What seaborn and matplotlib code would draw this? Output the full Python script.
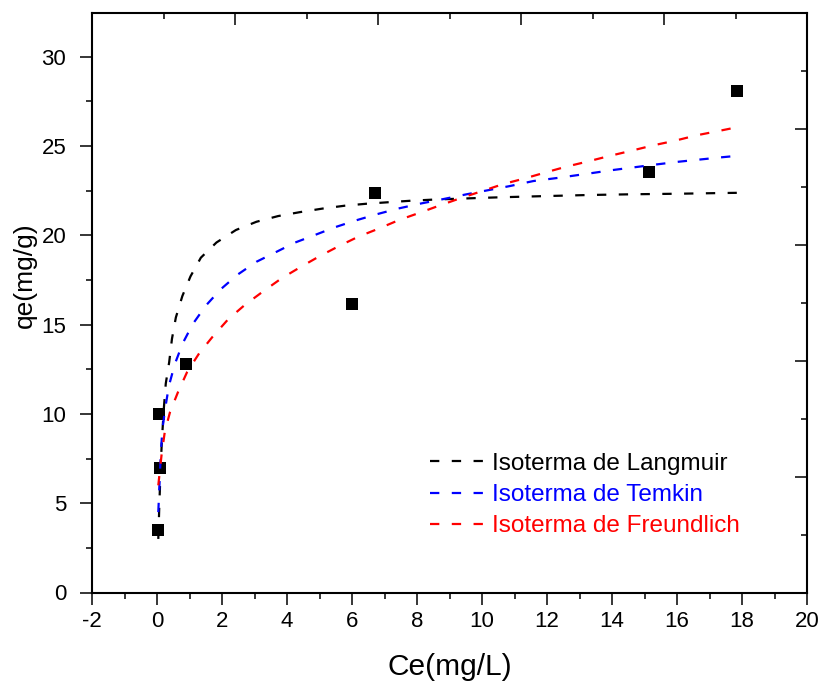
import matplotlib
matplotlib.use("Agg")
import matplotlib.pyplot as plt
import seaborn as sns
from matplotlib.ticker import MultipleLocator
from matplotlib.lines import Line2D

# Experimental equilibrium data
ce_exp = [0.04, 0.09, 0.06, 0.88, 6.00, 6.70, 15.14, 17.84]
qe_exp = [3.5, 6.95, 10.0, 12.78, 16.14, 22.35, 23.53, 28.06]

# Fitted isotherm curves (Ce, qe)
ce_langmuir = [0.04, 0.07, 0.11, 0.15, 0.21, 0.27, 0.375, 0.46, 0.58, 0.78, 1.03,
               1.35, 1.83, 2.43, 3.06, 3.73, 4.40, 5.10, 5.78, 6.45, 7.17, 7.83,
               8.50, 9.88, 10.55, 11.99, 13.32, 14.65, 16.04, 17.42, 17.84]
qe_langmuir = [3.0, 4.8, 6.9, 8.5, 10.3, 11.7, 12.9, 14.2, 15.4, 16.6, 17.7,
               18.75, 19.6, 20.3, 20.76, 21.08, 21.3, 21.5, 21.66, 21.77, 21.86, 21.94,
               22.0, 22.09, 22.13, 22.2, 22.26, 22.3, 22.33, 22.37, 22.38]

ce_temkin = [0.04, 0.12, 0.17, 0.26, 0.37, 0.55, 0.79, 1.10, 1.50, 1.96, 2.48,
             3.06, 3.68, 4.24, 4.86, 5.47, 6.09, 6.76, 7.42, 8.14, 8.81, 9.53,
             10.86, 11.58, 12.35, 13.32, 14.04, 15.37, 16.04, 17.37, 17.84]
qe_temkin = [4.5, 7.9, 9.2, 10.4, 11.6, 12.8, 13.95, 15.03, 16.06, 16.98, 17.8,
             18.52, 19.08, 19.59, 20.02, 20.45, 20.82, 21.18, 21.5, 21.79, 22.03, 22.3,
             22.76, 23.04, 23.22, 23.47, 23.66, 23.97, 24.12, 24.37, 24.45]

ce_freundlich = [0.04, 0.14, 0.24, 0.40, 0.65, 0.93, 1.30, 1.71, 2.19, 2.70, 3.25,
                 3.83, 4.43, 5.01, 5.60, 6.19, 6.84, 7.45, 8.09, 8.68, 9.32, 10.04,
                 10.65, 11.32, 11.99, 12.58, 13.22, 13.91, 14.60, 15.27, 15.94, 16.60,
                 17.27, 17.84]
qe_freundlich = [6.0, 7.7, 9.0, 10.1, 11.24, 12.36, 13.4, 14.32, 15.3, 16.1, 16.84,
                 17.59, 18.24, 18.84, 19.4, 19.92, 20.39, 20.86, 21.27, 21.66, 22.07, 22.5,
                 22.87, 23.19, 23.54, 23.84, 24.12, 24.44, 24.74, 25.04, 25.3, 25.6,
                 25.84, 26.05]

labels = ["Isoterma de Langmuir", "Isoterma de Temkin", "Isoterma de Freundlich"]
colors = ["#000000", "#0000ff", "#ff0000"]
curves = [(ce_langmuir, qe_langmuir), (ce_temkin, qe_temkin), (ce_freundlich, qe_freundlich)]

sns.set_style("ticks")
plt.rcParams["font.family"] = ["Liberation Sans", "DejaVu Sans"]
plt.rcParams["axes.unicode_minus"] = False
plt.rcParams["lines.scale_dashes"] = True

LW = 1.6
DASH = [4.2, 5.6]

fig = plt.figure(figsize=(8.23, 6.83), dpi=100)
rect = [92 / 823, 1 - 592.5 / 683, 715 / 823, 579.5 / 683]
ax = fig.add_axes(rect)

sns.scatterplot(x=ce_exp, y=qe_exp, ax=ax, marker="s", s=85, color="black",
                linewidth=0, zorder=2)

for (xs, ys), c in zip(curves, colors):
    sns.lineplot(x=xs, y=ys, ax=ax, color=c, sort=False,
                 estimator=None, zorder=3)
    line = ax.lines[-1]
    line.set_linewidth(LW)
    line.set_dashes(DASH)

ax.set_xlim(-2, 20)
ax.set_ylim(0, 32.45)
ax.xaxis.set_major_locator(MultipleLocator(2))
ax.xaxis.set_minor_locator(MultipleLocator(1))
ax.yaxis.set_major_locator(MultipleLocator(5))
ax.yaxis.set_minor_locator(MultipleLocator(2.5))
ax.tick_params(which="both", direction="out", top=False, right=False,
               width=1.1, color="black", labelsize=16, labelcolor="black")
ax.tick_params(which="major", length=8.5)
ax.tick_params(which="minor", length=4)
ax.tick_params(axis="x", pad=5)
ax.tick_params(axis="y", pad=10)
for sp in ax.spines.values():
    sp.set_visible(True)
    sp.set_linewidth(1.5)
    sp.set_color("black")

# Top/right frame ticks on their own 0-10 scale, pointing inward
ax2 = fig.add_axes(rect, facecolor="none", frameon=False, label="frame")
ax2.set_xlim(0, 10)
ax2.set_ylim(0, 10)
ax2.xaxis.tick_top()
ax2.yaxis.tick_right()
ax2.xaxis.set_major_locator(MultipleLocator(2))
ax2.xaxis.set_minor_locator(MultipleLocator(1))
ax2.yaxis.set_major_locator(MultipleLocator(2))
ax2.yaxis.set_minor_locator(MultipleLocator(1))
ax2.tick_params(which="both", direction="in", width=1.1, color="black",
                labeltop=False, labelright=False, labelbottom=False, labelleft=False,
                bottom=False, left=False, top=True, right=True)
ax2.tick_params(which="major", length=8.5)
ax2.tick_params(which="minor", length=4)

ax.set_xlabel("Ce(mg/L)", fontsize=21.5, color="black")
ax.xaxis.set_label_coords(0.5, -0.104)
ax.set_ylabel("qe(mg/g)", fontsize=19, color="black")
ax.yaxis.set_label_coords(-0.077, 0.548)

handles = [Line2D([], [], color=c, lw=LW, dashes=DASH) for c in colors]
leg = ax.legend(handles, labels, loc="center left", bbox_to_anchor=(0.4727, 0.168),
                frameon=False, fontsize=17.5, handlelength=2.2, handletextpad=0.35,
                labelspacing=0.38, borderpad=0, borderaxespad=0)
for txt, c in zip(leg.get_texts(), colors):
    txt.set_color(c)

fig.savefig("out.png", dpi=100)
